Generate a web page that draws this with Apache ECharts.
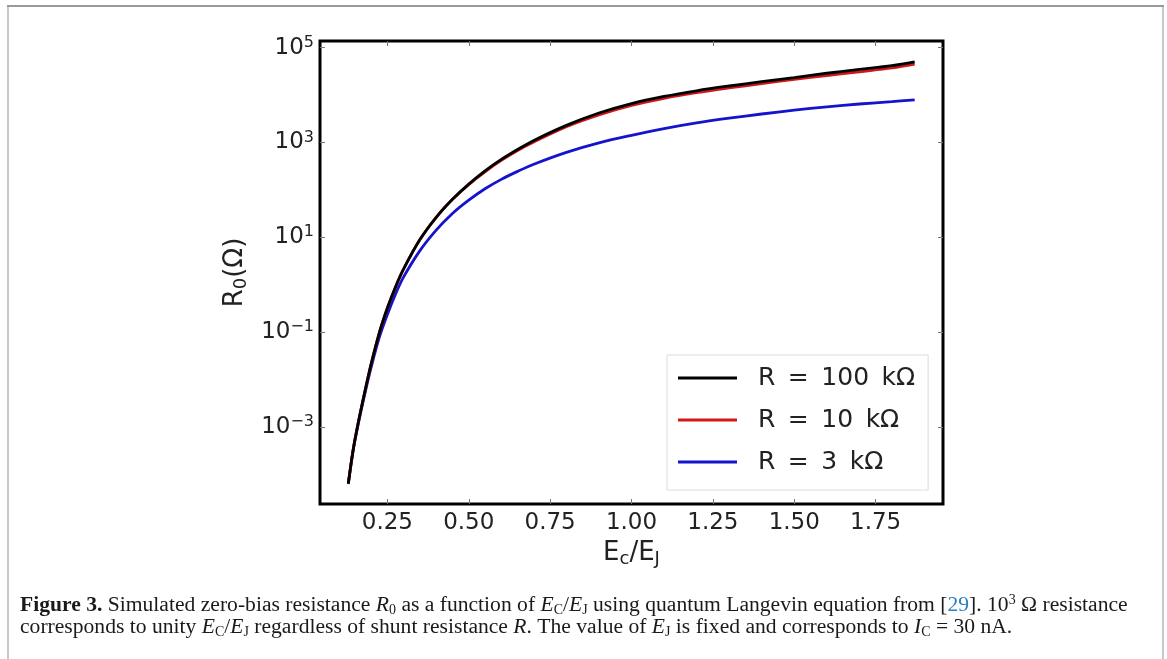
<!DOCTYPE html>
<html>
<head>
<meta charset="utf-8">
<script src="https://cdn.jsdelivr.net/npm/echarts@6/dist/echarts.min.js"></script>
<style>
  html, body { margin: 0; padding: 0; background: #fff; }
  #chart { width: 1167px; height: 659px; }
</style>
</head>
<body>
<div id="chart"></div>
<script>
// ---- data ----
const ratio = [0.13, 0.145, 0.16, 0.18, 0.20, 0.225, 0.25, 0.275, 0.30, 0.35, 0.40, 0.45, 0.50, 0.55, 0.60, 0.65, 0.70, 0.80, 0.90, 1.00, 1.10, 1.20, 1.30, 1.40, 1.50, 1.60, 1.70, 1.80, 1.87];
const r100k = [6.3e-5, 3.3e-4, 1.17e-3, 5.2e-3, 2.1e-2, 9.5e-2, 0.32, 0.89, 2.14, 8.9, 26.3, 63, 132, 251, 437, 708, 1100, 2290, 4170, 6610, 9330, 12300, 15500, 19100, 23400, 28800, 34700, 41700, 50100];
const r10k  = [6.3e-5, 3.3e-4, 1.17e-3, 5.2e-3, 2.1e-2, 9.5e-2, 0.32, 0.89, 2.14, 8.9, 26.3, 63, 129, 240, 417, 676, 1020, 2140, 3800, 6030, 8510, 11200, 14100, 17400, 21400, 25700, 30900, 37200, 44700];
const r3k   = [6.2e-5, 3.2e-4, 1.10e-3, 4.7e-3, 1.78e-2, 7.6e-2, 0.234, 0.63, 1.45, 5.2, 14.1, 31.6, 60.3, 105, 166, 245, 347, 617, 977, 1410, 1950, 2570, 3240, 3980, 4790, 5620, 6460, 7240, 7940];
const seriesNames = ['R\u2002=\u2002100\u2002kΩ', 'R\u2002=\u200210\u2002kΩ', 'R\u2002=\u20023\u2002kΩ'];
const xTicks = [0.25, 0.50, 0.75, 1.00, 1.25, 1.50, 1.75];
const yTicks = [1e-3, 1e-1, 1e1, 1e3, 1e5];

const xMin = 0.043, xMax = 1.957;
const yMin = Math.pow(10, -4.63), yMax = Math.pow(10, 5.14);

const TXT = '#222';
const FONT = 'DejaVu Sans';
const SERIF = 'Liberation Serif';
const CAP = '#1a1a1a';

function pairs(xs, ys) { return xs.map((x, i) => [x, ys[i]]); }
function yFmt(v) {
  const e = Math.round(Math.log10(v));
  return '{b|10}{s|' + (e < 0 ? '\u2212' + (-e) : e) + '}';
}

const chart = echarts.init(document.getElementById('chart'), null, { renderer: 'canvas' });

const tickStyle = { show: true, inside: true, length: 5, lineStyle: { color: '#777', width: 1 } };

function lineSeries(name, ys, color, z) {
  return {
    name: name, type: 'line', data: pairs(ratio, ys),
    smooth: 0.35, showSymbol: false, symbol: 'none',
    color: color, lineStyle: { width: 2.8, color: color }, z: z
  };
}

const CS = 21.6;
const capRich = {
  b: { fontFamily: SERIF, fontWeight: 'bold', fontSize: CS, fill: CAP, lineHeight: 24 },
  i: { fontFamily: SERIF, fontStyle: 'italic', fontSize: CS, fill: CAP, lineHeight: 24 },
  sub: { fontFamily: SERIF, fontSize: 14, fill: CAP, lineHeight: 22, verticalAlign: 'bottom' },
  sup: { fontFamily: SERIF, fontSize: 14, fill: CAP, lineHeight: 14, verticalAlign: 'top' },
  l: { fontFamily: SERIF, fontSize: CS, fill: '#2a7fc0', lineHeight: 24 }
};

const option = {
  animation: false,
  backgroundColor: '#fff',
  textStyle: { fontFamily: FONT },
  grid: { left: 320, top: 41, width: 623, height: 463, show: true, borderColor: '#000', borderWidth: 3, backgroundColor: 'transparent' },
  legend: {
    orient: 'vertical',
    left: 667, top: 355,
    padding: [8, 13, 13, 11],
    itemGap: 12,
    itemWidth: 59, itemHeight: 3,
    icon: 'rect',
    backgroundColor: '#fff',
    borderColor: '#dcdcdc', borderWidth: 1, borderRadius: 0,
    textStyle: { fontFamily: FONT, fontSize: 25, color: TXT, lineHeight: 30, padding: [0, 0, 0, 16] },
    data: seriesNames
  },
  xAxis: [{
    type: 'value', min: xMin, max: xMax,
    axisLine: { show: false },
    axisTick: Object.assign({ customValues: xTicks }, tickStyle),
    splitLine: { show: false },
    axisLabel: { customValues: xTicks, formatter: v => v.toFixed(2), fontFamily: FONT, fontSize: 23, color: TXT, margin: 8 },
    name: '{a|E}{s|c}{a|/E}{s|J}',
    nameLocation: 'middle', nameGap: 32,
    nameTextStyle: { rich: {
      a: { fontFamily: FONT, fontSize: 26, color: TXT, lineHeight: 30 },
      s: { fontFamily: FONT, fontSize: 18, color: TXT, lineHeight: 30, verticalAlign: 'bottom' }
    } }
  }, {
    type: 'value', position: 'top', min: xMin, max: xMax,
    axisLine: { show: false }, splitLine: { show: false },
    axisTick: Object.assign({ customValues: xTicks }, tickStyle),
    axisLabel: { show: false }
  }],
  yAxis: [{
    type: 'log', logBase: 10, min: yMin, max: yMax,
    axisLine: { show: false }, splitLine: { show: false },
    axisTick: Object.assign({ customValues: yTicks }, tickStyle),
    axisLabel: {
      customValues: yTicks, formatter: yFmt, margin: 6,
      rich: {
        b: { fontFamily: FONT, fontSize: 23, color: TXT, lineHeight: 26 },
        s: { fontFamily: FONT, fontSize: 16, color: TXT, lineHeight: 16, verticalAlign: 'top' }
      }
    },
    name: '{a|R}{s|0}{a|(Ω)}',
    nameLocation: 'middle', nameRotate: 90, nameGap: 70,
    nameTextStyle: { rich: {
      a: { fontFamily: FONT, fontSize: 26, color: TXT, lineHeight: 30 },
      s: { fontFamily: FONT, fontSize: 18, color: TXT, lineHeight: 30, verticalAlign: 'bottom' }
    } }
  }, {
    type: 'log', logBase: 10, position: 'right', min: yMin, max: yMax,
    axisLine: { show: false }, splitLine: { show: false },
    axisTick: Object.assign({ customValues: yTicks }, tickStyle),
    axisLabel: { show: false }
  }],
  series: [
    lineSeries(seriesNames[0], r100k, '#000000', 4),
    lineSeries(seriesNames[1], r10k, '#d01818', 3),
    lineSeries(seriesNames[2], r3k, '#1414cc', 2)
  ],
  graphic: [
    { type: 'rect', shape: { x: 8, y: 6, width: 1155, height: 700 }, style: { fill: 'none', stroke: '#c8c8c8', lineWidth: 2 }, silent: true },
    { type: 'line', shape: { x1: 7, y1: 6, x2: 1164, y2: 6 }, style: { stroke: '#9a9a9a', lineWidth: 2 }, silent: true },
    {
      type: 'text', left: 20, top: 593, silent: true,
      style: {
        text: '{b|Figure 3.} Simulated zero-bias resistance {i|R}{sub|0} as a function of {i|E}{sub|C}/{i|E}{sub|J} using quantum Langevin equation from [{l|29}]. 10{sup|3} Ω resistance',
        fontFamily: SERIF, fontSize: CS, fill: CAP, rich: capRich
      }
    },
    {
      type: 'text', left: 20, top: 616, silent: true,
      style: {
        text: 'corresponds to unity {i|E}{sub|C}/{i|E}{sub|J} regardless of shunt resistance {i|R}. The value of {i|E}{sub|J} is fixed and corresponds to {i|I}{sub|C} = 30 nA.',
        fontFamily: SERIF, fontSize: CS, fill: CAP, rich: capRich
      }
    }
  ]
};
chart.setOption(option);
</script>
</body>
</html>
